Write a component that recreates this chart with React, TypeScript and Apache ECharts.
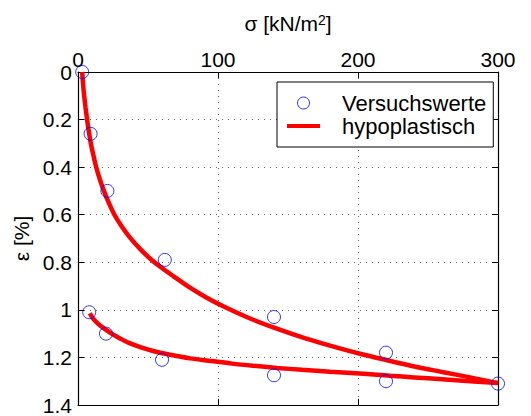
import { useEffect, useRef } from 'react';
import * as echarts from 'echarts';

// Measured values (Versuchswerte): stress [kN/m²], strain [%]
const measuredStress = [3, 9, 21, 62, 140, 220, 300, 220, 140, 60, 20, 8];
const measuredStrain = [0, 0.26, 0.5, 0.79, 1.03, 1.18, 1.31, 1.3, 1.275, 1.21, 1.1, 1.01];

// Hypoplastic model – loading branch
const loadStress = [3, 3.6, 4.4, 5.4, 6.5, 8, 9.5, 11, 13, 15.5, 18.5, 22, 26, 31, 37, 45, 52, 59, 68, 80, 91, 103, 120, 140, 163, 187, 205, 223, 242, 260, 280, 300];
const loadStrain = [0, 0.05, 0.1, 0.15, 0.2, 0.26, 0.31, 0.35, 0.4, 0.45, 0.5, 0.55, 0.6, 0.647, 0.695, 0.748, 0.787, 0.82, 0.858, 0.907, 0.946, 0.983, 1.029, 1.075, 1.121, 1.162, 1.19, 1.215, 1.24, 1.261, 1.284, 1.308];

// Hypoplastic model – unloading branch
const unloadStress = [8.5, 10, 12, 15, 19, 24, 30, 36, 45, 55, 65, 80, 95, 110, 125, 142, 160, 180, 204, 223, 240, 260, 280, 300];
const unloadStrain = [1.014, 1.03, 1.045, 1.062, 1.08, 1.1, 1.12, 1.138, 1.158, 1.175, 1.188, 1.204, 1.215, 1.226, 1.235, 1.244, 1.252, 1.26, 1.269, 1.277, 1.284, 1.292, 1.3, 1.308];

const xTicks = { min: 0, max: 300, interval: 100 };
const yTicks = { min: 0, max: 1.4, interval: 0.2 };

const FONT = "'Liberation Sans', Arial, Helvetica, sans-serif";

export default function App() {
  const ref = useRef<HTMLDivElement>(null);

  useEffect(() => {
    document.body.style.margin = '0';
    if (!ref.current) return;
    const chart = echarts.init(ref.current, undefined, { renderer: 'svg' });

    const zip = (xs: number[], ys: number[]) => xs.map((x, i) => [x, ys[i]]);

    const dotted = { show: true, lineStyle: { color: '#666', width: 1, type: [1, 5] as number[] } };
    const tick = { show: true, inside: true, length: 6, lineStyle: { color: '#000', width: 1 } };
    const axLine = { show: true, onZero: false, lineStyle: { color: '#000', width: 1.2 } };

    const curveStyle = {
      type: 'line',
      xAxisIndex: 0,
      yAxisIndex: 0,
      smooth: 0.3,
      showSymbol: false,
      symbol: 'none',
      lineStyle: { color: '#ff0000', width: 4.5 },
      itemStyle: { color: '#ff0000' },
      silent: true,
      z: 2,
    };

    chart.setOption({
      animation: false,
      backgroundColor: '#fff',
      textStyle: { fontFamily: FONT },
      grid: { left: 78, right: 33, top: 72, bottom: 11, containLabel: false },
      legend: {
        orient: 'vertical',
        left: 277,
        top: 82,
        padding: [10, 7, 10, 10],
        itemWidth: 33,
        itemHeight: 12,
        itemGap: 1,
        selectedMode: false,
        backgroundColor: '#fff',
        borderColor: '#000',
        borderWidth: 1,
        borderRadius: 0,
        textStyle: { fontSize: 22, lineHeight: 22, fontFamily: FONT, color: '#000', padding: [0, 0, 0, 17] },
        data: [
          {
            name: 'Versuchswerte',
            icon: 'circle',
            itemStyle: { color: 'transparent', borderColor: '#0000ff', borderWidth: 1 },
          },
          {
            name: 'hypoplastisch',
            icon: 'path://M0,0H33V4H0Z',
            itemStyle: { color: '#ff0000', borderWidth: 0 },
          },
        ],
      },
      xAxis: [
        {
          type: 'value',
          position: 'top',
          ...xTicks,
          name: 'σ [kN/m{sup|2}]',
          nameLocation: 'middle',
          nameGap: 38,
          nameTextStyle: {
            fontSize: 21,
            color: '#000',
            fontFamily: FONT,
            rich: { sup: { fontSize: 14, verticalAlign: 'top', color: '#000', fontFamily: FONT } },
          },
          axisLine: axLine,
          axisTick: tick,
          axisLabel: { show: true, fontSize: 21, color: '#000', margin: 2, fontFamily: FONT },
          splitLine: dotted,
        },
        {
          type: 'value',
          position: 'bottom',
          ...xTicks,
          axisLine: axLine,
          axisTick: tick,
          axisLabel: { show: false },
          splitLine: { show: false },
        },
      ],
      yAxis: [
        {
          type: 'value',
          position: 'left',
          inverse: true,
          ...yTicks,
          name: 'ε [%]',
          nameLocation: 'middle',
          nameRotate: 90,
          nameGap: 42,
          nameTextStyle: { fontSize: 21, color: '#000', fontFamily: FONT },
          axisLine: axLine,
          axisTick: tick,
          axisLabel: { show: true, fontSize: 21, color: '#000', margin: 6, fontFamily: FONT },
          splitLine: dotted,
        },
        {
          type: 'value',
          position: 'right',
          inverse: true,
          ...yTicks,
          axisLine: axLine,
          axisTick: tick,
          axisLabel: { show: false },
          splitLine: { show: false },
        },
      ],
      series: [
        { ...curveStyle, name: 'hypoplastisch', data: zip(loadStress, loadStrain) },
        { ...curveStyle, name: 'hypoplastisch', data: zip(unloadStress, unloadStrain) },
        {
          name: 'Versuchswerte',
          type: 'scatter',
          xAxisIndex: 0,
          yAxisIndex: 0,
          data: zip(measuredStress, measuredStrain),
          symbol: 'circle',
          symbolSize: 13,
          itemStyle: { color: 'transparent', borderColor: '#0000ff', borderWidth: 1 },
          silent: true,
          z: 3,
        },
      ],
    });

    return () => chart.dispose();
  }, []);

  return (
    <div
      ref={ref}
      style={{ position: 'fixed', left: 0, top: 0, width: 531, height: 416, background: '#fff' }}
    />
  );
}
